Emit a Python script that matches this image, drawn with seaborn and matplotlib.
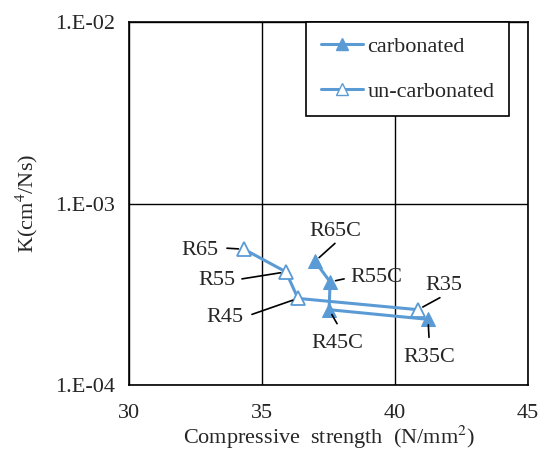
#!/usr/bin/env python3

import pandas as pd
import seaborn as sns
from matplotlib import pyplot as plt
from matplotlib.lines import Line2D

# Data
labels_unc = ["R65", "R55", "R45", "R35"]
strength_unc = [34.32, 35.9, 36.35, 40.86]
k_unc = [5.6e-4, 4.2e-4, 3.0e-4, 2.6e-4]

labels_carb = ["R65C", "R55C", "R45C", "R35C"]
strength_carb = [36.99, 37.56, 37.52, 41.24]
k_carb = [4.8e-4, 3.7e-4, 2.6e-4, 2.3e-4]

x_ticks = [30, 35, 40, 45]
y_ticks = [1e-4, 1e-3, 1e-2]
y_ticklabels = ["1.E-04", "1.E-03", "1.E-02"]

# label offsets (pixels) from the point: text position, and line start
offsets = {
    "R65": ((-44, -1), (-17, 1)),
    "R55": ((-69, -9), (-44, -7)),
    "R45": ((-73, -19), (-46, -16)),
    "R35": ((26, 24), (22, 12)),
    "R65C": ((20, 30), (20, 18)),
    "R55C": ((46, 4), (14, 3)),
    "R45C": ((8, -34), (8, -14)),
    "R35C": ((1, -38), (1, -18)),
}

blue = "#5B9BD5"

sns.set_style("white")
plt.rcParams["font.family"] = ["Liberation Serif", "DejaVu Serif"]
plt.rcParams["mathtext.fontset"] = "stix"

df_carb = pd.DataFrame({"x": strength_carb, "k": k_carb, "label": labels_carb})
df_unc = pd.DataFrame({"x": strength_unc, "k": k_unc, "label": labels_unc})

fig = plt.figure(figsize=(5.46, 4.54), dpi=100)
ax = fig.add_axes([0.2363, 0.152, 0.7308, 0.7995])

sns.lineplot(data=df_unc, x="x", y="k", sort=False, color=blue, lw=2.2,
             marker="^", markersize=10, markerfacecolor="white",
             markeredgecolor=blue, markeredgewidth=1.3, ax=ax, zorder=3)
sns.lineplot(data=df_carb, x="x", y="k", sort=False, color=blue, lw=2.2,
             marker="^", markersize=10, markerfacecolor=blue,
             markeredgecolor=blue, ax=ax, zorder=3)

ax.set_yscale("log")
ax.set_xlim(30, 45)
ax.set_ylim(1e-4, 1e-2)
ax.set_xticks(x_ticks)
ax.set_yticks(y_ticks)
ax.set_yticklabels(y_ticklabels)
ax.minorticks_off()
ax.tick_params(length=0, labelsize=16, pad=14)
ax.tick_params(axis="y", pad=10)

ax.grid(True, color="black", lw=1)
for sp in ax.spines.values():
    sp.set_color("black")
    sp.set_linewidth(1.2)

ax.set_xlabel("Compressive  strength  (N/mm$^2$)", fontsize=16, labelpad=0)
ax.set_ylabel("K(cm$^4$/Ns)", fontsize=16, labelpad=11)

# Labels with leader lines
for df in (df_unc, df_carb):
    for _, row in df.iterrows():
        (tx, ty), (lx, ly) = offsets[row["label"]]
        ax.annotate("", xy=(row["x"], row["k"]), xytext=(lx, ly),
                    textcoords="offset pixels",
                    arrowprops=dict(arrowstyle="-", color="black", lw=1.2,
                                    shrinkA=0, shrinkB=4))
        ax.annotate(row["label"], xy=(row["x"], row["k"]), xytext=(tx, ty),
                    textcoords="offset pixels", fontsize=16,
                    ha="center", va="center")

handles = [
    Line2D([], [], color=blue, lw=2.2, marker="^", markersize=8,
           markerfacecolor=blue, markeredgecolor=blue),
    Line2D([], [], color=blue, lw=2.2, marker="^", markersize=8,
           markerfacecolor="white", markeredgecolor=blue),
]
leg = ax.legend(handles, ["carbonated", "un-carbonated"], loc="upper left",
                bbox_to_anchor=(0.444, 1.0), borderaxespad=0, fontsize=16,
                fancybox=False, framealpha=1, edgecolor="black",
                handlelength=1.9, labelspacing=1.1, borderpad=0.65,
                handletextpad=0.2)
leg.get_frame().set_linewidth(1.2)

fig.savefig("out.png", dpi=100)
plt.close()
